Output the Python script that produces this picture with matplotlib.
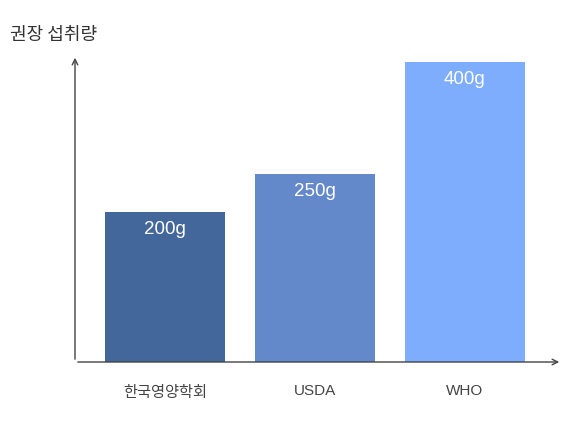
import matplotlib.pyplot as plt
import numpy as np

plt.rcParams['font.family'] = ['Noto Sans CJK KR', 'DejaVu Sans']

categories = ["한국영양학회", "USDA", "WHO"]
values = [200, 250, 400]
colors = ["#44679b", "#6389cb", "#7eadfd"]

fig = plt.figure(figsize=(5.67, 4.46), dpi=100)
ax = fig.add_axes([75 / 567, 84 / 446, 487 / 567, 307 / 446])

x = 90 + 150 * np.arange(len(categories))
ax.bar(x, values, width=120, color=colors)
ax.set_xlim(0, 487)
ax.set_ylim(0, 307 / 0.75)

for xi, v in zip(x, values):
    ax.text(xi, v - 12, f"{v}g", ha="center", va="top", color="white",
            fontsize=13.5, family=["Liberation Sans", "DejaVu Sans"])

ax.set_xticks(x)
ax.set_xticklabels(categories, fontsize=11, color="#444444")
for lbl, c in zip(ax.get_xticklabels(), categories):
    if c.isascii():
        lbl.set_family(["Liberation Sans", "DejaVu Sans"])
ax.tick_params(axis="x", length=0, pad=16)
ax.set_yticks([])
for s in ax.spines.values():
    s.set_visible(False)

arrow = dict(arrowstyle="->", color="#444444", lw=1.0)
ax.annotate("", xy=(1, 0), xytext=(0, 0), xycoords="axes fraction", arrowprops=arrow)
ax.annotate("", xy=(0, 1), xytext=(0, 0), xycoords="axes fraction", arrowprops=arrow)

fig.text(10 / 567, 1 - 35 / 446, "권장 섭취량", fontsize=13, color="#333333", va="center")

fig.savefig("out.png", dpi=100)
